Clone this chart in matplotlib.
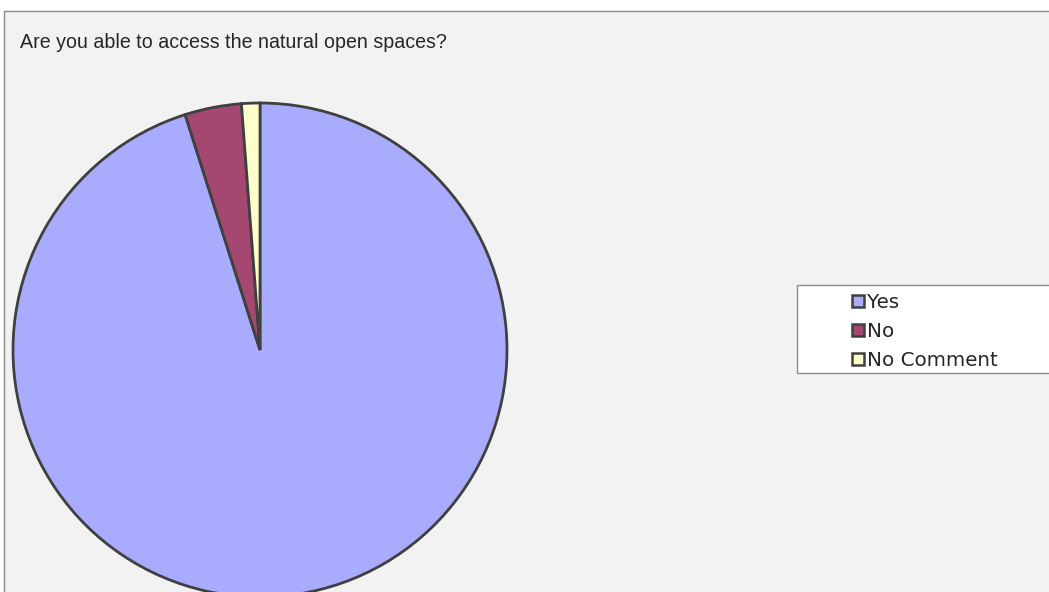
import matplotlib
matplotlib.use("Agg")
import matplotlib.pyplot as plt
from matplotlib.patches import Rectangle, Patch

title = "Are you able to access the natural open spaces?"
labels = ["Yes", "No", "No Comment"]
values = [95.1, 3.7, 1.2]
colors = ["#A9ABFF", "#A5486F", "#FFFFCC"]
edge = "#404040"

plt.rcParams['font.family'] = ['Liberation Sans', 'DejaVu Sans']

W, H = 1049, 592
fig = plt.figure(figsize=(W / 100, H / 100), dpi=100)
fig.patch.set_facecolor("white")

def fx(px):
    return px / W

def fy(py):
    return 1 - py / H

# chart area frame
fig.patches.append(Rectangle((fx(4), fy(700)), fx(1100), (700 - 11) / H,
                             transform=fig.transFigure, facecolor="#F2F2F2",
                             edgecolor="#8C8C8C", linewidth=1.0, zorder=-10))

fig.text(fx(20), fy(43), title, fontsize=14.1,
         color="#262626", va="center", ha="left", zorder=5)

# pie
cx, cy, r = 260, 350, 247
ax = fig.add_axes([fx(cx - r), fy(cy + r), 2 * r / W, 2 * r / H])
ax.set_zorder(2)
ax.set_facecolor("none")
ax.pie(values, colors=colors, startangle=90, counterclock=False, radius=1,
       wedgeprops=dict(edgecolor=edge, linewidth=2.0))
ax.set_xlim(-1.0, 1.0)
ax.set_ylim(-1.0, 1.0)
ax.set_aspect("equal")
ax.axis("off")

# legend box
fig.patches.append(Rectangle((fx(797), fy(373)), fx(300), (373 - 285) / H,
                             transform=fig.transFigure, facecolor="white",
                             edgecolor="#8C8C8C", linewidth=1.0, zorder=3))
handles = [Patch(facecolor=c, edgecolor=edge, linewidth=1.8) for c in colors]
leg = fig.legend(handles, labels, loc="upper left", bbox_to_anchor=(fx(852), fy(293)),
                 frameon=False, prop={'family': 'DejaVu Sans', 'size': 14.3},
                 handlelength=0.6, handleheight=0.6,
                 handletextpad=0.15, labelspacing=0.5, borderpad=0, borderaxespad=0)
leg.set_zorder(4)
for t in leg.get_texts():
    t.set_color("#262626")

fig.savefig("out.png", dpi=100)
